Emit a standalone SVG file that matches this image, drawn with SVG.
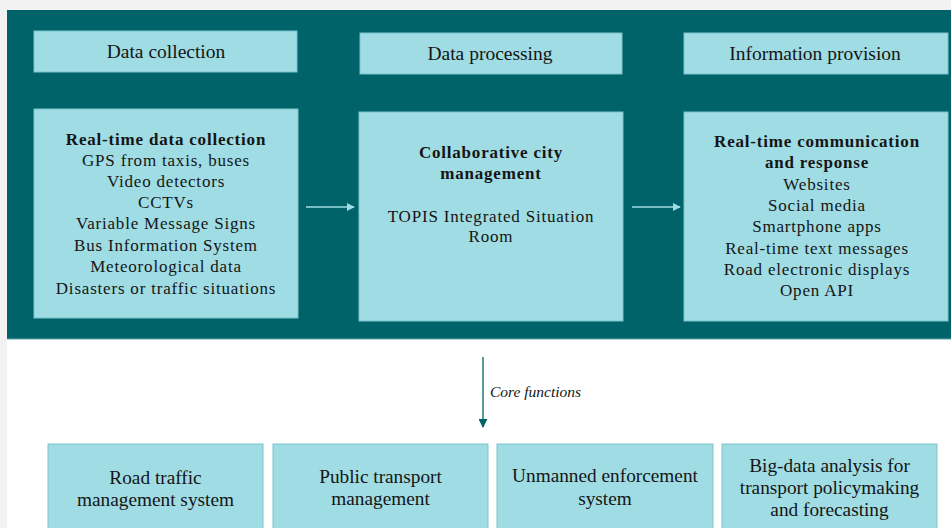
<svg xmlns="http://www.w3.org/2000/svg" width="951" height="528" viewBox="0 0 951 528">
<style>
.box{fill:#a0dce3;stroke:#7cc4cc;stroke-width:1}
.t{font-family:"Liberation Serif",serif;fill:#151515;text-anchor:middle}
.h{font-size:19.5px}
.b{font-size:17px;letter-spacing:0.8px}
.bb{font-size:17px;letter-spacing:0.8px;font-weight:bold}
.f{font-size:19.3px}
.conn{stroke:#a0dce3;stroke-width:1.3;fill:none}
</style>
<defs>
<marker id="ah" viewBox="0 0 10 10" refX="9" refY="5" markerWidth="8" markerHeight="8" markerUnits="userSpaceOnUse" orient="auto">
<path d="M0,0 L10,5 L0,10 z" fill="#a0dce3"/>
</marker>
<marker id="ahd" viewBox="0 0 10 10" refX="9" refY="5" markerWidth="9" markerHeight="9" markerUnits="userSpaceOnUse" orient="auto">
<path d="M0,0 L10,5 L0,10 z" fill="#00636a"/>
</marker>
</defs>
<rect x="0" y="0" width="951" height="528" fill="#f2f2f2"/>
<rect x="7" y="339" width="944" height="189" fill="#ffffff"/>
<rect x="7" y="10" width="944" height="329" fill="#00636a"/>
<line x1="7" y1="339" x2="951" y2="339" stroke="#5fa3a8" stroke-width="1"/>

<g id="hdr-collection">
<rect class="box" x="34" y="31" width="263" height="41"/>
<text class="t h" x="166" y="58">Data collection</text>
</g>
<g id="hdr-processing">
<rect class="box" x="360" y="33" width="262" height="41"/>
<text class="t h" x="490" y="60">Data processing</text>
</g>
<g id="hdr-provision">
<rect class="box" x="684" y="33" width="264" height="41"/>
<text class="t h" x="815" y="60">Information provision</text>
</g>

<g id="collection">
<rect class="box" x="34" y="109" width="264" height="209"/>
<text class="t bb" x="166" y="145">Real-time data collection</text>
<text class="t b" x="166" y="166">GPS from taxis, buses</text>
<text class="t b" x="166" y="187">Video detectors</text>
<text class="t b" x="166" y="208">CCTVs</text>
<text class="t b" x="166" y="229">Variable Message Signs</text>
<text class="t b" x="166" y="251">Bus Information System</text>
<text class="t b" x="166" y="272">Meteorological data</text>
<text class="t b" x="166" y="294">Disasters or traffic situations</text>
</g>

<g id="processing">
<rect class="box" x="359" y="112" width="264" height="209"/>
<text class="t bb" x="491" y="158">Collaborative city</text>
<text class="t bb" x="491" y="179">management</text>
<text class="t b" x="491" y="222">TOPIS Integrated Situation</text>
<text class="t b" x="491" y="242">Room</text>
</g>

<g id="provision">
<rect class="box" x="684" y="112" width="264" height="209"/>
<text class="t bb" x="817" y="147">Real-time communication</text>
<text class="t bb" x="817" y="168">and response</text>
<text class="t b" x="817" y="190">Websites</text>
<text class="t b" x="817" y="211">Social media</text>
<text class="t b" x="817" y="232">Smartphone apps</text>
<text class="t b" x="817" y="254">Real-time text messages</text>
<text class="t b" x="817" y="275">Road electronic displays</text>
<text class="t b" x="817" y="296">Open API</text>
</g>

<g id="f-road">
<rect class="box" x="48" y="444" width="215" height="100"/>
<text class="t f" x="155.5" y="484">Road traffic</text>
<text class="t f" x="155.5" y="506">management system</text>
</g>
<g id="f-public">
<rect class="box" x="273" y="444" width="215" height="100"/>
<text class="t f" x="380.5" y="483">Public transport</text>
<text class="t f" x="380.5" y="505">management</text>
</g>
<g id="f-unmanned">
<rect class="box" x="497" y="444" width="216" height="100"/>
<text class="t f" x="605" y="482">Unmanned enforcement</text>
<text class="t f" x="605" y="505">system</text>
</g>
<g id="f-bigdata">
<rect class="box" x="722" y="444" width="215" height="100"/>
<text class="t f" x="829.5" y="472">Big-data analysis for</text>
<text class="t f" x="829.5" y="494">transport policymaking</text>
<text class="t f" x="829.5" y="516">and forecasting</text>
</g>

<g id="connectors">
<line class="conn" x1="306" y1="207" x2="354" y2="207" marker-end="url(#ah)"/>
<line class="conn" x1="632" y1="207" x2="680" y2="207" marker-end="url(#ah)"/>
<line x1="483" y1="357" x2="483" y2="427" stroke="#00636a" stroke-width="1.3" marker-end="url(#ahd)"/>
<text x="490" y="397" font-family="Liberation Serif, serif" font-style="italic" font-size="15.5" fill="#151515">Core functions</text>
</g>
</svg>
